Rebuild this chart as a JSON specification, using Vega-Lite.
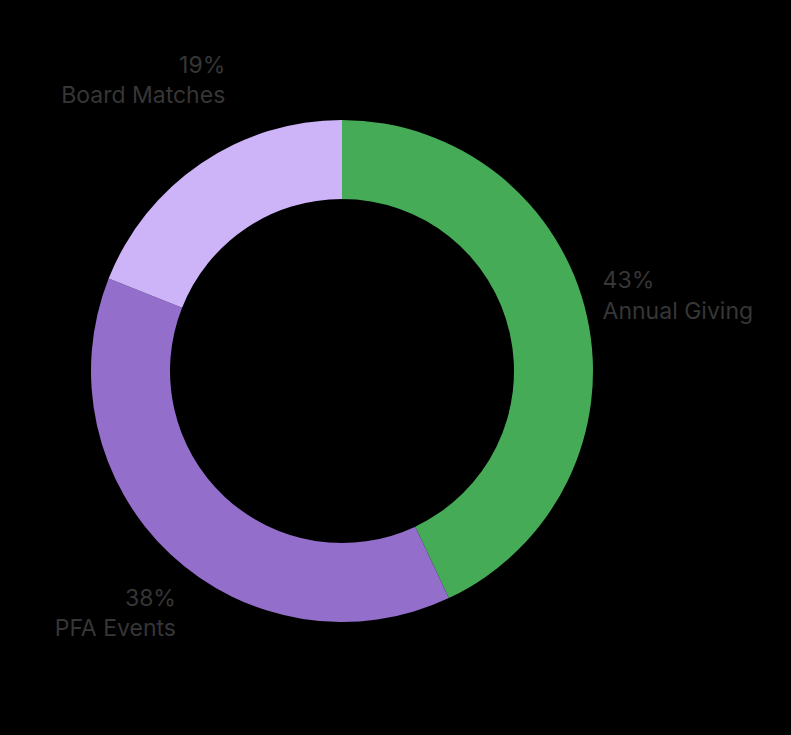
{
  "$schema": "https://vega.github.io/schema/vega-lite/v6.json",
  "width": 684,
  "height": 700,
  "autosize": {"type": "none"},
  "padding": {"left": 0, "top": 21, "right": 107, "bottom": 14},
  "background": "#000000",
  "view": {"stroke": null},
  "data": {
    "values": [
      {"category": "Annual Giving", "value": 0.43},
      {"category": "PFA Events", "value": 0.38},
      {"category": "Board Matches", "value": 0.19}
    ]
  },
  "encoding": {
    "theta": {"field": "value", "type": "quantitative", "stack": true},
    "order": {"field": "value", "type": "quantitative", "sort": "descending"}
  },
  "layer": [
    {
      "mark": {"type": "arc", "innerRadius": 172, "outerRadius": 251},
      "encoding": {
        "color": {
          "field": "category",
          "type": "nominal",
          "scale": {
            "domain": ["Annual Giving", "PFA Events", "Board Matches"],
            "range": ["#46AB56", "#936FCB", "#CDB4F9"]
          },
          "legend": null
        }
      }
    },
    {
      "mark": {"type": "text", "radius": 267, "align": "left", "baseline": "alphabetic", "dy": -25, "font": "Inter", "fontSize": 23, "letterSpacing": -0.3, "color": "#363636"},
      "encoding": {"text": {"condition": {"test": "datum.category === 'Annual Giving'", "field": "value", "format": ".0%"}, "value": ""}}
    },
    {
      "mark": {"type": "text", "radius": 267, "align": "left", "baseline": "alphabetic", "dy": 6, "font": "Inter", "fontSize": 23, "letterSpacing": -0.3, "color": "#363636"},
      "encoding": {"text": {"condition": {"test": "datum.category === 'Annual Giving'", "field": "category"}, "value": ""}}
    },
    {
      "mark": {"type": "text", "radius": 350, "align": "right", "baseline": "alphabetic", "dx": 80, "dy": -8.5, "font": "Inter", "fontSize": 23, "letterSpacing": -0.3, "color": "#363636"},
      "encoding": {"text": {"condition": {"test": "datum.category === 'Board Matches'", "field": "value", "format": ".0%"}, "value": ""}}
    },
    {
      "mark": {"type": "text", "radius": 350, "align": "right", "baseline": "alphabetic", "dx": 80, "dy": 21.5, "font": "Inter", "fontSize": 23, "letterSpacing": -0.3, "color": "#363636"},
      "encoding": {"text": {"condition": {"test": "datum.category === 'Board Matches'", "field": "category"}, "value": ""}}
    },
    {
      "mark": {"type": "text", "radius": 340, "align": "right", "baseline": "alphabetic", "dx": 66.7, "dy": -13, "font": "Inter", "fontSize": 23, "letterSpacing": -0.3, "color": "#363636"},
      "encoding": {"text": {"condition": {"test": "datum.category === 'PFA Events'", "field": "value", "format": ".0%"}, "value": ""}}
    },
    {
      "mark": {"type": "text", "radius": 340, "align": "right", "baseline": "alphabetic", "dx": 66.7, "dy": 17, "font": "Inter", "fontSize": 23, "letterSpacing": -0.3, "color": "#363636"},
      "encoding": {"text": {"condition": {"test": "datum.category === 'PFA Events'", "field": "category"}, "value": ""}}
    }
  ]
}
